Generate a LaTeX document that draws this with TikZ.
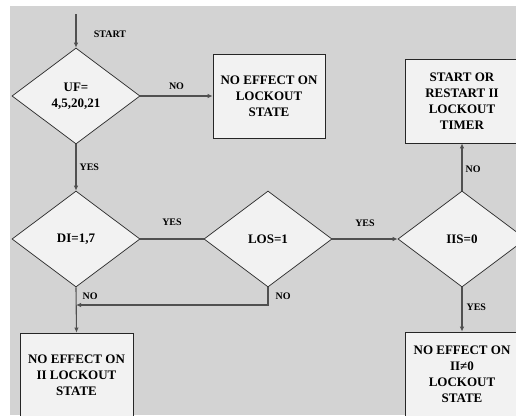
\documentclass[tikz,border=0pt]{standalone}
\usepackage{fontspec}
\setmainfont{Liberation Serif}
\usetikzlibrary{shapes.geometric,arrows.meta}
\definecolor{bggray}{HTML}{D3D3D3}
\definecolor{boxfill}{HTML}{F2F2F2}
\definecolor{linegray}{HTML}{505050}
\definecolor{edgegray}{HTML}{262626}

\begin{document}
\begin{tikzpicture}[x=1pt,y=-1pt,
  decision/.style={diamond,draw=edgegray,fill=boxfill,line width=0.7pt,
    minimum width=128pt,minimum height=96pt,inner sep=0pt,align=center,
    font=\fontsize{13}{16}\selectfont\bfseries},
  result/.style={rectangle,draw=edgegray,fill=boxfill,line width=0.7pt,
    minimum width=113pt,minimum height=84pt,align=center,
    font=\fontsize{13}{16}\selectfont\bfseries},
  lbl/.style={font=\fontsize{10}{12}\selectfont\bfseries,inner sep=1pt},
  flow/.style={draw=linegray,line width=1.1pt},
  arr/.style={flow,-{Latex[length=5pt,width=4.5pt]}}]

  % Frame
  \useasboundingbox (0,0) rectangle (516,415);
  \fill[white] (0,0) rectangle (516,415);
  \fill[bggray] (10,6) rectangle (516,415);
  \clip (0,0) rectangle (516,415);

  % Decisions
  \coordinate (start) at (76,14);
  \node[decision] (uf)  at (76,96)   {UF=\\4,5,20,21};
  \node[decision] (di)  at (76,239)  {DI=1,7};
  \node[decision] (los) at (268,239) {LOS=1};
  \node[decision] (iis) at (462,239) {IIS=0};

  % Results
  \node[result,minimum width=112pt] (noeffect) at (269,96) {NO EFFECT ON\\LOCKOUT\\STATE};
  \node[result,minimum width=114pt] (timer) at (462,101) {START OR\\RESTART II\\LOCKOUT\\TIMER};
  \node[result] (noeffectii) at (76.5,375) {NO EFFECT ON\\II LOCKOUT\\STATE};
  \node[result,minimum width=114pt,minimum height=85pt] (noeffectne) at (462,374.5)
    {NO EFFECT ON\\II≠0\\LOCKOUT\\STATE};
  \coordinate (join) at (76,305);

  % Connectors
  \draw[arr] (start) -- (uf.north);
  \node[lbl] (startlbl) at (110,34) {START};
  \draw[arr] (uf.east) -- node[lbl,above=5pt] {NO} (noeffect.west);
  \draw[arr] (uf.south) -- node[lbl,right=2pt] {YES} (di.north);
  \draw[flow] (di.east) -- node[lbl,above=12pt] {YES} (los.west);
  \draw[arr] (los.east) -- node[lbl,above=11pt] {YES} (iis.west);
  \draw[arr] (iis.north) -- node[lbl,right=2pt,pos=0.45] {NO} (timer.south);
  \draw[arr] (iis.south) -- node[lbl,right=3pt,pos=0.45] {YES} (noeffectne.north);
  \draw[arr] (di.south) -- node[lbl,right=5pt,pos=0.2] {NO} (noeffectii.north);
  \draw[arr] (los.south) |- node[lbl,right=6pt,pos=0.25] {NO} (join);
\end{tikzpicture}
\end{document}
